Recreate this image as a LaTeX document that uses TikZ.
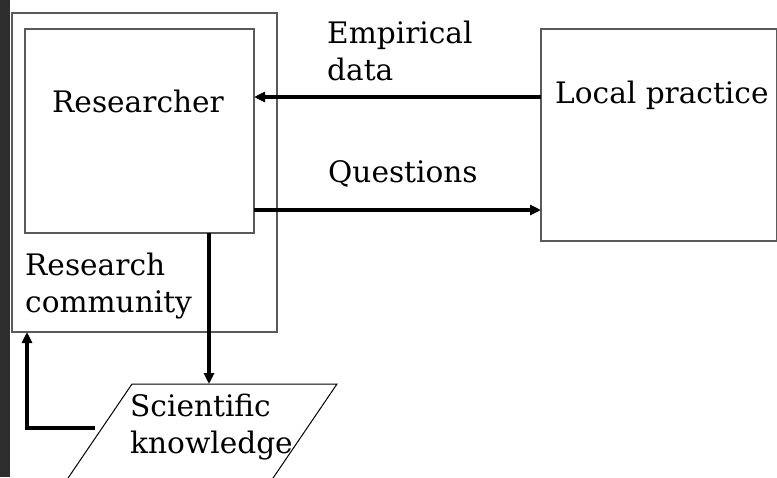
\documentclass[tikz,border=0pt]{standalone}
\usepackage{fontspec}
\setmainfont{DejaVu Serif}
\usetikzlibrary{arrows.meta,calc}
\definecolor{boxgray}{RGB}{90,90,90}
\definecolor{stripdark}{RGB}{45,45,45}
\tikzset{
  box/.style={draw=boxgray, line width=1.2pt, inner sep=0pt, outer sep=0pt, fill=white},
  lbl/.style={anchor=base west, inner sep=0pt, align=left,
    font=\fontsize{29.6}{37}\selectfont},
  arr/.style={line width=3.2pt, -{Triangle[length=11pt,width=10pt]}},
  slant/.style={draw=black, line width=1pt}
}
\begin{document}
\begin{tikzpicture}[x=1pt, y=-1pt]
  \useasboundingbox (0,0) rectangle (777,477);
  \clip (0,0) rectangle (777,477);
  % dark strip along the left edge
  \fill[stripdark] (0,0) rectangle (10,477);

  % boxes
  \node[box, minimum width=265pt, minimum height=319pt] (comm) at (144.5,172.5) {};
  \node[box, minimum width=229pt, minimum height=204pt] (res) at (139.5,131) {};
  \node[box, minimum width=236pt, minimum height=212pt] (loc) at (659,135) {};

  % scientific knowledge parallelogram (open towards the bottom edge)
  \coordinate (skTL) at (132,384);
  \coordinate (skTR) at (337,384);
  \draw[slant] ($(skTL)+(-68,100)$) -- (skTL) -- (skTR) -- ($(skTR)+(-68,100)$);
  \coordinate (sktop) at (209,384);

  % labels (multi-line labels are anchored at the baseline of their last line)
  \node[lbl] (tres) at (52,112) {Researcher};
  \node[lbl] (tcomm) at (25,312) {Research\\community};
  \node[lbl] (tloc) at (555,103) {Local practice};
  \node[lbl] (temp) at (327,80) {Empirical\\data};
  \node[lbl] (tq) at (328,182) {Questions};
  \node[lbl] (tsk) at (130,453) {Scientific\\knowledge};

  % connectors
  \coordinate (yED) at (0,97);
  \coordinate (yQ) at (0,210);
  \coordinate (xK) at (209,0);
  \coordinate (xF) at (27,0);
  \coordinate (fbstart) at (95,428);
  \draw[arr] (loc.west |- yED) -- (res.east |- yED);
  \draw[arr] (res.east |- yQ) -- (loc.west |- yQ);
  \draw[arr] (res.south -| xK) -- (sktop);
  \draw[arr] (fbstart) -| (comm.south -| xF);
\end{tikzpicture}
\end{document}
